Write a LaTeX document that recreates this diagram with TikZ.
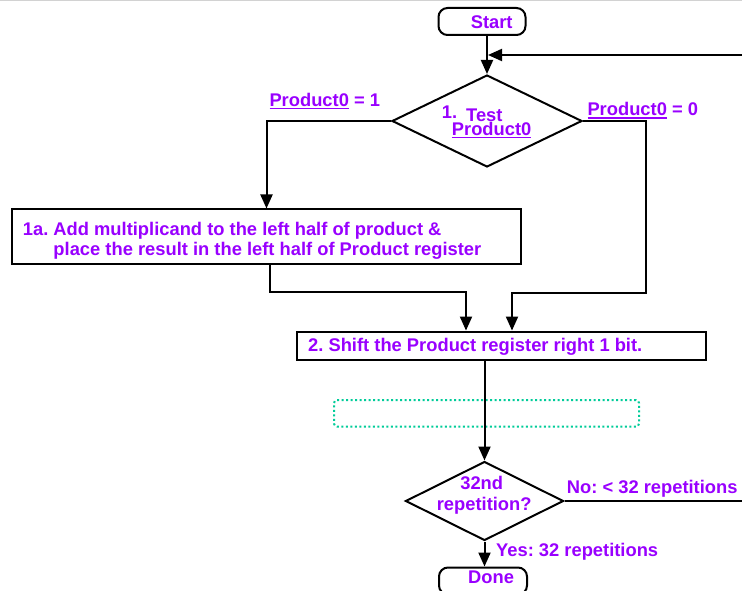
\documentclass[tikz,border=0pt]{standalone}
\usepackage{fontspec}
\setmainfont{Liberation Sans}
\usetikzlibrary{shapes.geometric,arrows.meta}
\definecolor{txtpurple}{RGB}{153,0,255}
\definecolor{dotteal}{RGB}{0,204,153}
% underline drawn as a rule just below the baseline
\newcommand\ulword[1]{\setbox0\hbox{#1}\rlap{\rule[-2.8bp]{\wd0}{1.4bp}}\box0\relax}
\frenchspacing

\begin{document}
\begin{tikzpicture}[x=1bp,y=-1bp,
  lbl/.style={inner sep=0pt, anchor=base west, text=txtpurple,
    font=\bfseries\fontsize{18.4}{21}\selectfont},
  flowline/.style={line width=2bp, draw=black},
  arrow/.style={flowline, -{Triangle[length=14bp,width=12bp]}},
  termbox/.style={draw, line width=2bp, rounded corners=9bp, inner sep=0pt,
    minimum width=87bp, minimum height=27bp},
  stepbox/.style={draw, line width=2bp, inner sep=0pt},
  decision/.style={draw, diamond, line width=2bp, inner sep=0pt},
  notebox/.style={draw=dotteal, line width=2bp, dash pattern=on 2bp off 2.5bp,
    rounded corners=3bp, inner sep=0pt}]
\useasboundingbox (0,0) rectangle (742,591);
\clip (0,0) rectangle (742,591);
\fill[white] (0,0) rectangle (742,591);
\draw[gray!35, line width=1.5bp] (0,0.6) -- (742,0.6);

% shapes
\node[termbox] (start) at (482,21.5) {};
\node[decision, minimum width=190bp, minimum height=92bp] (d1) at (487,121) {};
\node[stepbox, minimum width=509bp, minimum height=54bp] (b1) at (266.5,236.5) {};
\node[stepbox, minimum width=409bp, minimum height=28.5bp] (b2) at (501.5,345.8) {};
\node[notebox, minimum width=305bp, minimum height=26.5bp] (note) at (486.5,413.3) {};
\node[decision, minimum width=158bp, minimum height=79bp] (d2) at (484.5,501) {};
\node[termbox, minimum width=88bp] (done) at (483,581) {};

% texts
\node[lbl] (tstart) at (470.6,28.3) {Start};
\node[lbl] (tone) at (441.7,118.3) {1.};
\node[lbl] (ttest) at (466,121.2) {Test};
\node[lbl] (tprod) at (451.7,135.3) {\ulword{Product0}};
\node[lbl] (tyes1) at (269.3,106.7) {\ulword{Product0} = 1};
\node[lbl] (tno0) at (587.3,116) {\ulword{Product0} = 0};
\node[lbl] (tb1a) at (22.7,235) {1a. Add multiplicand to the left half of product \&};
\node[lbl] (tb1b) at (53.3,255.3) {place the result in the left half of Product register};
\node[lbl] (tb2) at (308,351.7) {2. Shift the Product register right 1 bit.};
\node[lbl, anchor=base] (t32) at (481.7,489.3) {32nd};
\node[lbl, anchor=base] (trep) at (484.2,510) {repetition?};
\node[lbl] (tno) at (566.7,493.3) {No: < 32 repetitions};
\node[lbl] (tyes) at (496,556) {Yes: 32 repetitions};
\node[lbl] (tdone) at (468,583.3) {Done};

% connectors
\coordinate (fbin) at (488,55);
\coordinate (loopR) at (770,0);
\coordinate (lout) at (270,0);
\coordinate (lj) at (466,292);
\coordinate (rc) at (646,293);
\coordinate (rin) at (512,0);

\draw[arrow] (d1.north |- start.south) -- (d1.north);
\draw[arrow] (d2.east) -- (d2.east -| loopR) -- (loopR |- fbin) -- (fbin);
\draw[arrow] (d1.west) -| (b1.north);
\draw[arrow] (d1.east) -| (rc) -| (b2.north -| rin);
\draw[arrow] (b1.south -| lout) |- (lj) -- (lj |- b2.north);
\draw[arrow] (d2.north |- b2.south) -- (d2.north);
\draw[arrow] (d2.south) -- (d2.south |- done.north);
\end{tikzpicture}
\end{document}
